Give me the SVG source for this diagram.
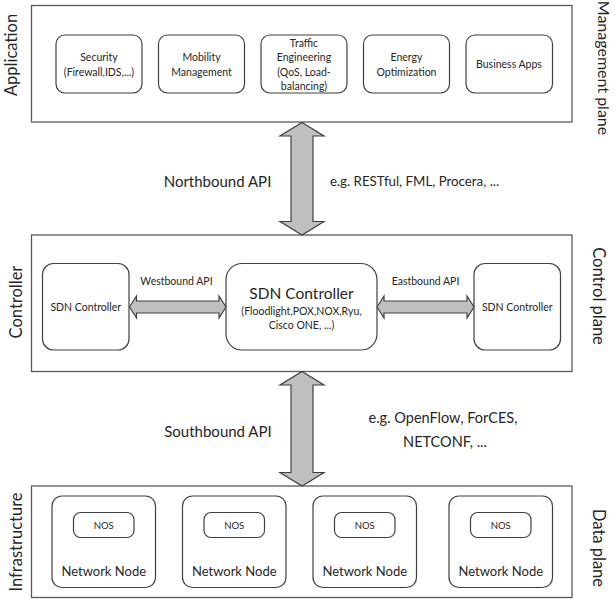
<svg xmlns="http://www.w3.org/2000/svg" width="615" height="612" viewBox="0 0 615 612">
<style>
.frame{fill:#fff;stroke:#595959;stroke-width:1.3}
.box{fill:#fff;stroke:#404040;stroke-width:1.2}
.arrow{fill:#bfbfbf;stroke:#404040;stroke-width:1.2;stroke-linejoin:miter}
text{font-family:Lato,"Liberation Sans",sans-serif;fill:#262626;text-anchor:middle}
.s{font-size:10.5px}
.m{font-size:13px}
.l{font-size:15px}
.side{font-size:16.5px}
</style>
<rect width="615" height="612" fill="#fff"/>
<g id="application-layer">
<rect class="frame" x="31.5" y="5.5" width="540.5" height="116.5"/>
<text class="side" transform="translate(17,55) rotate(-90)">Application</text>
<text class="side" transform="translate(598,68) rotate(90)" style="font-size:16px">Management plane</text>
</g>
<g id="security"><rect class="box" x="56" y="35" width="86" height="58" rx="9"/>
<text class="s" x="99" y="61">Security</text><text class="s" x="99" y="76">(Firewall,IDS,...)</text></g>
<g id="mobility"><rect class="box" x="158.5" y="35" width="86" height="58" rx="9"/>
<text class="s" x="201.5" y="61">Mobility</text><text class="s" x="201.5" y="76">Management</text></g>
<g id="traffic"><rect class="box" x="261" y="35" width="86" height="58" rx="9"/>
<text class="s" x="304" y="46.5">Traffic</text><text class="s" x="304" y="61">Engineering</text><text class="s" x="304" y="75.5">(QoS, Load-</text><text class="s" x="304" y="90">balancing)</text></g>
<g id="energy"><rect class="box" x="363.5" y="35" width="86" height="58" rx="9"/>
<text class="s" x="406.5" y="61">Energy</text><text class="s" x="406.5" y="76">Optimization</text></g>
<g id="business"><rect class="box" x="466" y="35" width="86.5" height="58" rx="9"/>
<text class="s" x="509" y="68">Business Apps</text></g>

<g id="controller-layer">
<rect class="frame" x="31.5" y="235" width="540.5" height="136.5"/>
<text class="side" transform="translate(22,302) rotate(-90)">Controller</text>
<text class="side" transform="translate(593,296) rotate(90)">Control plane</text>
</g>
<g id="sdn-left"><rect class="box" x="42.5" y="263.5" width="86.5" height="86.5" rx="11"/>
<text class="s" x="85.75" y="310.5">SDN Controller</text></g>
<g id="sdn-center"><rect class="box" x="226" y="263.5" width="151" height="86.5" rx="16"/>
<text class="l" x="301.5" y="298.5" style="font-size:15.5px">SDN Controller</text>
<text class="s" x="301.5" y="314.5">(Floodlight,POX,NOX,Ryu,</text>
<text class="s" x="301.5" y="329">Cisco ONE, ...)</text></g>
<g id="sdn-right"><rect class="box" x="474" y="263.5" width="86.5" height="86.5" rx="11"/>
<text class="s" x="517.25" y="310.5">SDN Controller</text></g>

<g id="infrastructure-layer">
<rect class="frame" x="31.5" y="486" width="540.5" height="111.5"/>
<text class="side" transform="translate(22,542) rotate(-90)">Infrastructure</text>
<text class="side" transform="translate(593,548) rotate(90)">Data plane</text>
</g>
<g id="node1"><rect class="box" x="52" y="496" width="103.5" height="91.5" rx="10"/>
<rect class="box" x="73.5" y="512.5" width="60.5" height="25" rx="7"/>
<text class="s" x="103.75" y="529" style="font-size:9.5px">NOS</text>
<text class="m" x="103.75" y="575.5">Network Node</text></g>
<g id="node2"><rect class="box" x="182.5" y="496" width="103.5" height="91.5" rx="10"/>
<rect class="box" x="204" y="512.5" width="60.5" height="25" rx="7"/>
<text class="s" x="234.25" y="529" style="font-size:9.5px">NOS</text>
<text class="m" x="234.25" y="575.5">Network Node</text></g>
<g id="node3"><rect class="box" x="313" y="496" width="103.5" height="91.5" rx="10"/>
<rect class="box" x="334.5" y="512.5" width="60.5" height="25" rx="7"/>
<text class="s" x="364.75" y="529" style="font-size:9.5px">NOS</text>
<text class="m" x="364.75" y="575.5">Network Node</text></g>
<g id="node4"><rect class="box" x="449" y="496" width="103.5" height="91.5" rx="10"/>
<rect class="box" x="470.5" y="512.5" width="60.5" height="25" rx="7"/>
<text class="s" x="500.75" y="529" style="font-size:9.5px">NOS</text>
<text class="m" x="500.75" y="575.5">Network Node</text></g>

<g id="connectors">
<path class="arrow" d="M302,122.5 L324,136 L313,136 L313,221.5 L324,221.5 L302,235 L280,221.5 L291,221.5 L291,136 L280,136 Z"/>
<path class="arrow" d="M302,371.5 L324,385 L313,385 L313,472.5 L324,472.5 L302,486 L280,472.5 L291,472.5 L291,385 L280,385 Z"/>
<path class="arrow" d="M129.5,307 L136.5,296 L136.5,301 L219,301 L219,296 L226,307 L219,318 L219,313 L136.5,313 L136.5,318 Z"/>
<path class="arrow" d="M377,307 L384,296 L384,301 L467,301 L467,296 L474,307 L467,318 L467,313 L384,313 L384,318 Z"/>
<text class="s" x="176.5" y="285">Westbound API</text>
<text class="s" x="425.5" y="285">Eastbound API</text>
<text class="l" x="217.5" y="186.5">Northbound API</text>
<text class="m" x="414.5" y="185.5" style="font-size:13.3px">e.g. RESTful, FML, Procera, ...</text>
<text class="l" x="218" y="437">Southbound API</text>
<text class="l" x="443" y="423" style="font-size:14.5px">e.g. OpenFlow, ForCES,</text>
<text class="l" x="445" y="447" style="font-size:14.5px">NETCONF, ...</text>
</g>
</svg>
